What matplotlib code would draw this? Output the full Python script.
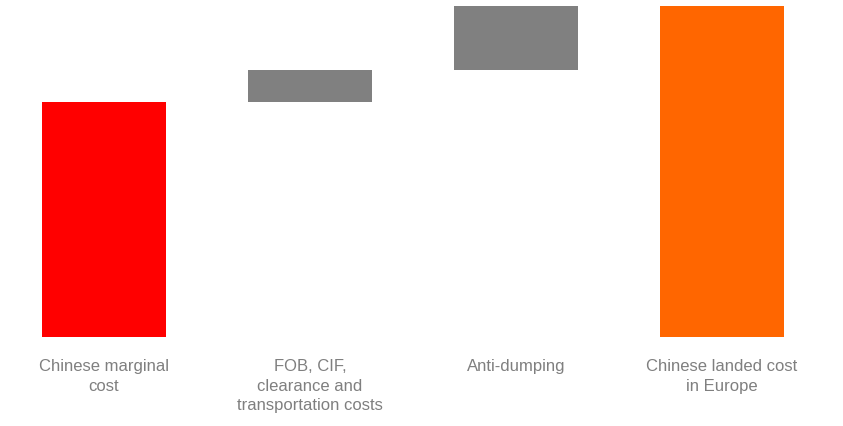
import matplotlib.pyplot as plt
import matplotlib.transforms as mtransforms
import numpy as np

plt.rcParams['font.family'] = ['Liberation Sans', 'DejaVu Sans']

# cost build-up (relative units)
labels = ['Chinese marginal\ncost',
          'FOB, CIF,\nclearance and\ntransportation costs',
          'Anti-dumping',
          'Chinese landed cost\nin Europe']
base_cost = 100
increments = [13.6, 27.2]
colors = ['#FF0000', '#808080', '#808080', '#FF6600']

# waterfall: start bar, floating steps, total bar
steps = [base_cost] + increments
bottoms = [0] + list(np.cumsum(steps)[:-1])
total = float(np.sum(steps))
heights = steps + [total]
bottoms = bottoms + [0]

fig = plt.figure(figsize=(8.43, 4.26), dpi=100)
ax = fig.add_axes([0, 89 / 426, 1, 331 / 426])

x = np.arange(len(heights))
ax.bar(x, heights, bottom=bottoms, width=0.6, color=colors, linewidth=0)

ax.set_xlim(-104 / 206, (843 - 104) / 206)
ax.set_ylim(0, total)
ax.axis('off')

# category labels under the bars
trans = mtransforms.blended_transform_factory(ax.transData, ax.transAxes)
for xi, lab in zip(x, labels):
    ax.text(xi, -22 / 331, lab, transform=trans, ha='center', va='top',
            fontsize=12, color='#7F7F7F', linespacing=1.38)

fig.savefig('out.png', dpi=100, facecolor='white')
